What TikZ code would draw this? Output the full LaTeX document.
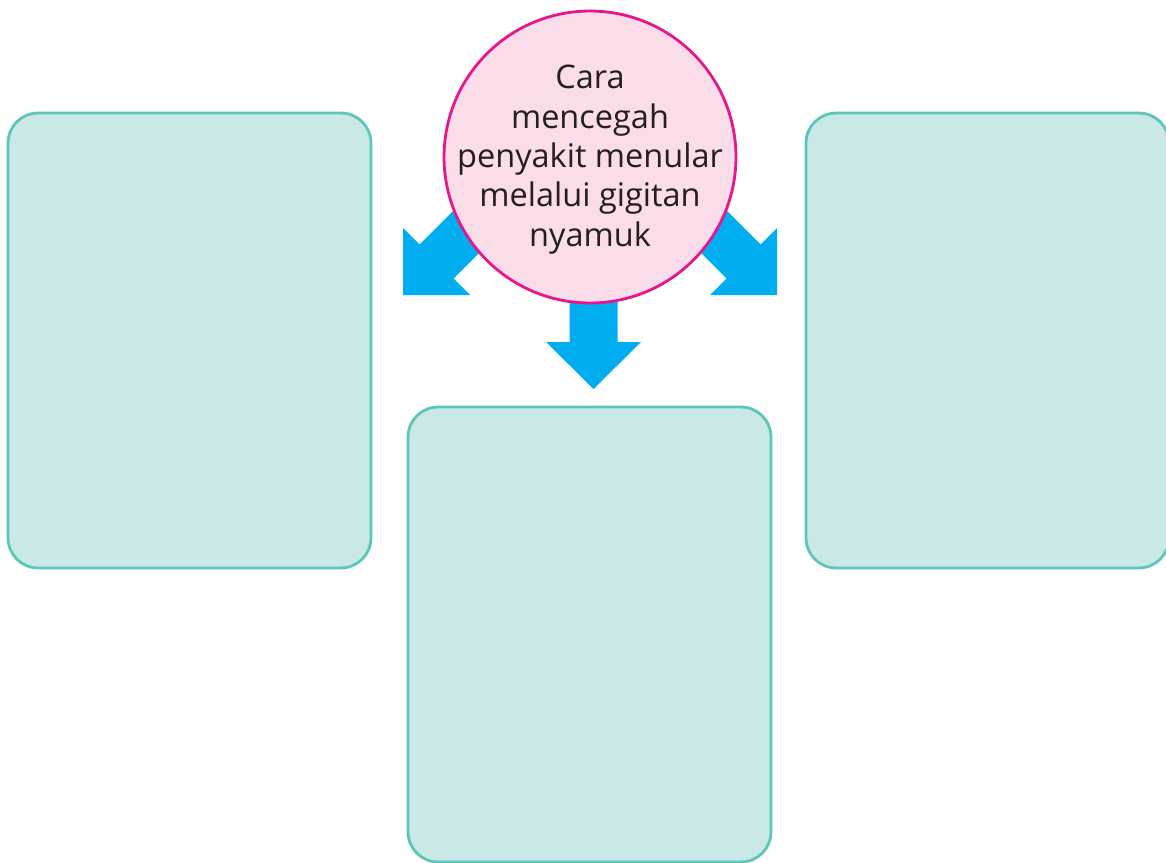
\documentclass[tikz,border=0pt]{standalone}
\usepackage{fontspec}
\setmainfont{Open Sans}
\usetikzlibrary{positioning}
\definecolor{boxfill}{HTML}{CAE8E6}
\definecolor{boxline}{HTML}{5CC6B9}
\definecolor{bubblefill}{HTML}{FADDE9}
\definecolor{bubbleline}{HTML}{E6178C}
\definecolor{arrowblue}{HTML}{00AEEF}
\definecolor{textgray}{HTML}{231F20}
\tikzset{
	answerbox/.style={draw=boxline, fill=boxfill, line width=1.6pt, rounded corners=0.6cm,
		minimum width=7.26cm, minimum height=9.1cm, inner sep=0pt},
	topic/.style={circle, draw=bubbleline, fill=bubblefill, line width=1.6pt,
		minimum size=5.84cm, inner sep=0pt},
	topictext/.style={align=center, text=textgray, inner sep=0pt,
		font=\fontsize{18.5pt}{22.4pt}\selectfont},
	blockarrow/.style={fill=arrowblue, draw=none}
}

\begin{document}
\begin{tikzpicture}[x=0.02cm, y=-0.02cm]
		\useasboundingbox (0,0) rectangle (1166,862);
		\clip (0,0) rectangle (1166,862);
		% Answer boxes
		\node[answerbox] (left) at (189.5,340.5) {};
		\node[answerbox] (right) at (987.5,340.5) {};
		\node[answerbox] (bottom) at (589.5,634.5) {};
		% Arrows
		\fill[blockarrow] plot coordinates
			{(403,295) (403,228) (419.5,244.5) (500,164) (534,198) (453.5,278.5) (470,295) (403,295)};
		\fill[blockarrow] plot coordinates
			{(777,295) (777,228) (760.5,244.5) (680,164) (646,198) (726.5,278.5) (710,295) (777,295)};
		\fill[blockarrow] plot coordinates
			{(569.5,250) (569.5,342) (546,342) (593.5,389) (641,342) (617.5,342) (617.5,250) (569.5,250)};
		% Topic
		\node[topic] (topic) at (590,157) {};
		\node[topictext] (topiclabel) at ([yshift=-0.05cm]topic.center)
			{Cara\\mencegah\\penyakit menular\\melalui gigitan\\nyamuk};
	\end{tikzpicture}
\end{document}
